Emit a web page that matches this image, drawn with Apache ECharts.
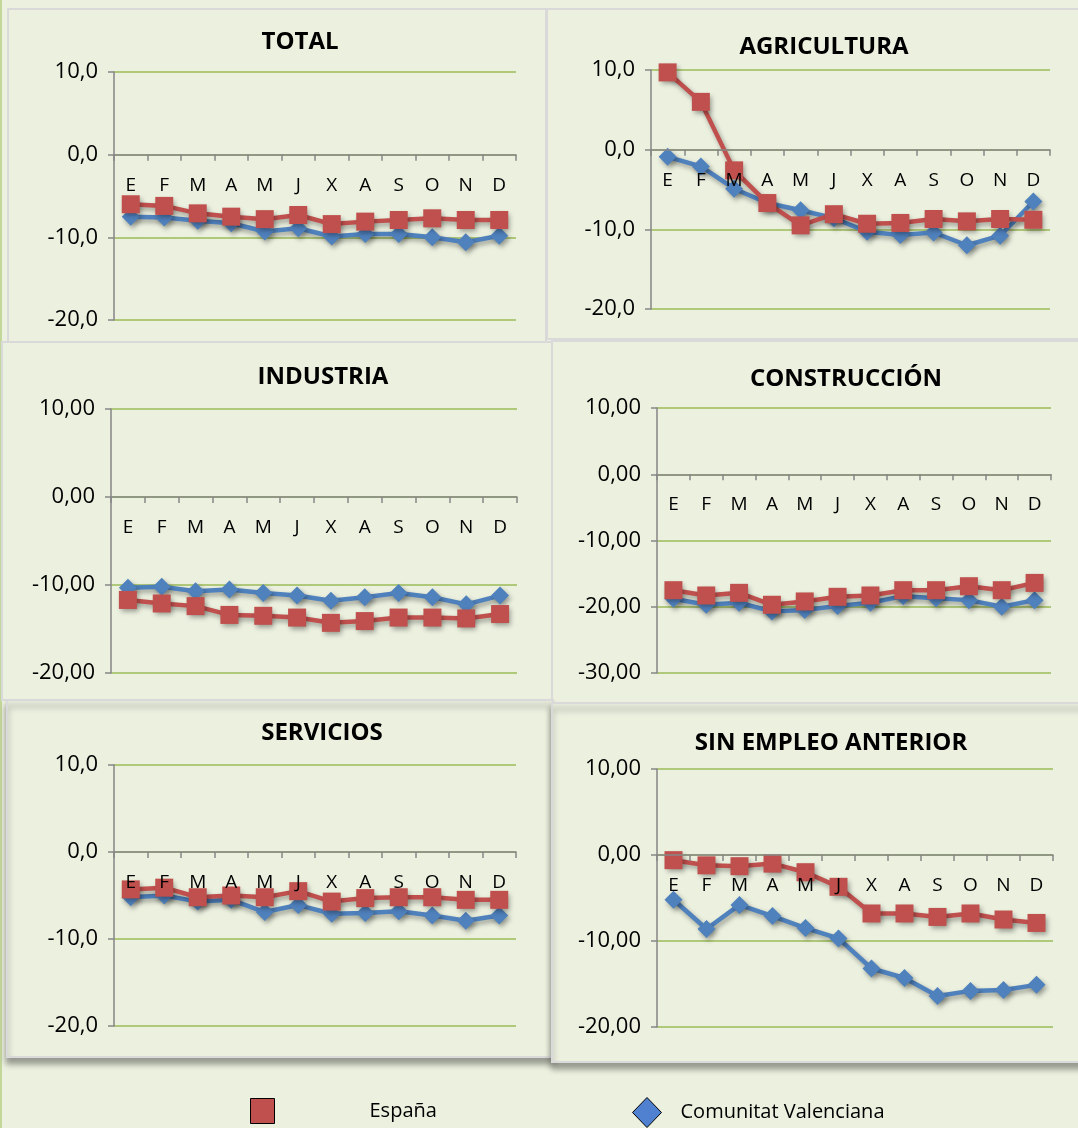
<!DOCTYPE html>
<html>
<head>
<meta charset="utf-8">
<script src="https://cdn.jsdelivr.net/npm/echarts@6/dist/echarts.min.js"></script>
<style>
  html, body { margin: 0; padding: 0; background: #EBF0DF; }
  #chart { width: 1078px; height: 1128px; }
</style>
</head>
<body>
<div id="chart"></div>
<script>
// meses
const months = ['E', 'F', 'M', 'A', 'M', 'J', 'X', 'A', 'S', 'O', 'N', 'D']

// España
const espTotal = [-6.0, -6.2, -7.1, -7.5, -7.8, -7.3, -8.4, -8.1, -7.9, -7.7, -7.9, -7.9]
const espAgri = [9.7, 6.0, -2.6, -6.7, -9.5, -8.1, -9.3, -9.2, -8.7, -9.0, -8.7, -8.8]
const espInd = [-11.7, -12.1, -12.4, -13.4, -13.5, -13.7, -14.3, -14.1, -13.7, -13.7, -13.8, -13.3]
const espCons = [-17.5, -18.3, -17.9, -19.7, -19.2, -18.5, -18.3, -17.5, -17.5, -16.9, -17.5, -16.4]
const espServ = [-4.3, -4.1, -5.2, -5.0, -5.2, -4.5, -5.7, -5.3, -5.2, -5.2, -5.5, -5.5]
const espSin = [-0.6, -1.2, -1.3, -1.0, -2.0, -3.7, -6.8, -6.8, -7.2, -6.8, -7.5, -7.9]

// Comunitat Valenciana
const cvTotal = [-7.5, -7.6, -8.0, -8.3, -9.3, -8.9, -9.9, -9.6, -9.6, -10.0, -10.6, -9.8]
const cvAgri = [-0.9, -2.1, -4.9, -6.7, -7.6, -8.6, -10.3, -10.7, -10.4, -12.0, -10.8, -6.5]
const cvInd = [-10.3, -10.2, -10.7, -10.5, -10.9, -11.2, -11.8, -11.4, -10.9, -11.4, -12.2, -11.2]
const cvCons = [-18.8, -19.7, -19.4, -20.7, -20.5, -19.9, -19.4, -18.4, -18.7, -19.0, -20.0, -19.0]
const cvServ = [-5.2, -5.0, -5.7, -5.5, -6.9, -6.1, -7.1, -7.0, -6.8, -7.3, -7.9, -7.3]
const cvSin = [-5.2, -8.6, -5.8, -7.1, -8.5, -9.7, -13.2, -14.3, -16.4, -15.8, -15.7, -15.1]

const font = '"Open Sans", "Noto Sans", sans-serif'
const red = '#C0504D'
const blue = '#4F81BD'

// cada panel: titulo, datos, escala y posicion
const panels = [
  {title: 'TOTAL', esp: espTotal, cv: cvTotal, min: -20, max: 10, dec: 1,
   box: [8, 9, 538, 333], grid: [114, 72, 402, 248], tx: 300, ty: 40},
  {title: 'AGRICULTURA', esp: espAgri, cv: cvAgri, min: -20, max: 10, dec: 1,
   box: [547, 9, 540, 330], grid: [651, 70, 399, 239], tx: 824, ty: 45},
  {title: 'INDUSTRIA', esp: espInd, cv: cvInd, min: -20, max: 10, dec: 2,
   box: [2, 342, 550, 358], grid: [111, 409, 406, 264], tx: 323, ty: 375},
  {title: 'CONSTRUCCIÓN', esp: espCons, cv: cvCons, min: -30, max: 10, dec: 2,
   box: [552, 341, 540, 362], grid: [657, 408, 394, 265], tx: 846, ty: 377},
  {title: 'SERVICIOS', esp: espServ, cv: cvServ, min: -20, max: 10, dec: 1,
   box: [7, 700, 546, 357], grid: [114, 765, 402, 261], tx: 322, ty: 731},
  {title: 'SIN EMPLEO ANTERIOR', esp: espSin, cv: cvSin, min: -20, max: 10, dec: 2,
   box: [552, 703, 540, 359], grid: [657, 769, 396, 258], tx: 831, ty: 741}
]

const lineShadow = {shadowColor: 'rgba(0,0,0,0.35)', shadowBlur: 5, shadowOffsetX: 2, shadowOffsetY: 3}

const graphic = [
  {type: 'rect', shape: {x: 0, y: 0, width: 2, height: 1128}, style: {fill: '#C4D79B'}, z: 0}
]
const title = []
const grid = []
const xAxis = []
const yAxis = []
const series = []

panels.forEach((p, i) => {
  graphic.push({
    type: 'rect', z: 0,
    shape: {x: p.box[0], y: p.box[1], width: p.box[2], height: p.box[3]},
    style: {fill: '#EBF0DF', stroke: '#D9D9D9', lineWidth: 2,
      shadowColor: i >= 4 ? 'rgba(0,0,0,0.35)' : 'rgba(0,0,0,0)', shadowBlur: 6, shadowOffsetX: 0, shadowOffsetY: 6}
  })
  title.push({
    text: p.title, left: p.tx, top: p.ty - 10, textAlign: 'center', padding: 0,
    textStyle: {fontFamily: font, fontSize: 24, fontWeight: 'bold', color: '#000'}
  })
  grid.push({
    left: p.grid[0], top: p.grid[1], width: p.grid[2], height: p.grid[3],
    show: true, backgroundColor: '#F2F2F2', borderWidth: 0
  })
  // el eje de categorias va en el 0: se sube desde abajo la parte negativa del rango
  const zeroOffset = -p.grid[3] * (0 - p.min) / (p.max - p.min)
  xAxis.push({
    type: 'category', gridIndex: i, data: months, position: 'bottom', offset: zeroOffset, z: 5,
    axisLine: {onZero: false, lineStyle: {color: '#868686', width: 1.5}},
    axisTick: {show: true, length: 6, lineStyle: {color: '#868686', width: 1.5}},
    axisLabel: {fontFamily: font, fontSize: 19, color: '#000', margin: 21, interval: 0}
  })
  yAxis.push({
    type: 'value', gridIndex: i, min: p.min, max: p.max, interval: 10,
    axisLine: {show: true, lineStyle: {color: '#868686', width: 1.5}},
    axisTick: {show: true, length: 6, lineStyle: {color: '#868686', width: 1.5}},
    axisLabel: {fontFamily: font, fontSize: 22, color: '#000', margin: 16,
      formatter: v => v.toFixed(p.dec).replace('.', ',')},
    splitLine: {lineStyle: {color: '#9BBB59', width: 1.5}}
  })
  series.push({
    name: 'Comunitat Valenciana', type: 'line', xAxisIndex: i, yAxisIndex: i,
    data: p.cv, symbol: 'diamond', symbolSize: 18, color: blue,
    lineStyle: Object.assign({width: 4.5, color: blue}, lineShadow),
    itemStyle: Object.assign({color: blue}, lineShadow),
    animation: false
  })
  series.push({
    name: 'España', type: 'line', xAxisIndex: i, yAxisIndex: i,
    data: p.esp, symbol: 'rect', symbolSize: 18, color: red,
    lineStyle: Object.assign({width: 4.5, color: red}, lineShadow),
    itemStyle: Object.assign({color: red}, lineShadow),
    animation: false
  })
})

const myChart = echarts.init(document.getElementById('chart'))
myChart.setOption({
  backgroundColor: '#EBF0DF',
  animation: false,
  graphic: graphic,
  title: title,
  grid: grid,
  xAxis: xAxis,
  yAxis: yAxis,
  legend: [
    {
      left: 250, top: 1098, itemWidth: 24, itemHeight: 25, padding: 0,
      data: [{name: 'España', icon: 'rect',
        itemStyle: {color: red, borderColor: '#000', borderWidth: 1, shadowBlur: 0, shadowColor: 'transparent'}}],
      formatter: n => '{t|' + n + '}',
      textStyle: {rich: {t: {fontFamily: font, fontSize: 20, color: '#000', padding: [0, 0, 0, 90]}}}
    },
    {
      left: 632, top: 1097, itemWidth: 29, itemHeight: 30, padding: 0,
      data: [{name: 'Comunitat Valenciana', icon: 'diamond',
        itemStyle: {color: '#4F81D0', borderColor: '#000', borderWidth: 1, shadowBlur: 0, shadowColor: 'transparent'}}],
      formatter: n => '{t|' + n + '}',
      textStyle: {rich: {t: {fontFamily: font, fontSize: 20, color: '#000', padding: [0, 0, 0, 14]}}}
    }
  ],
  series: series
})
</script>
</body>
</html>
